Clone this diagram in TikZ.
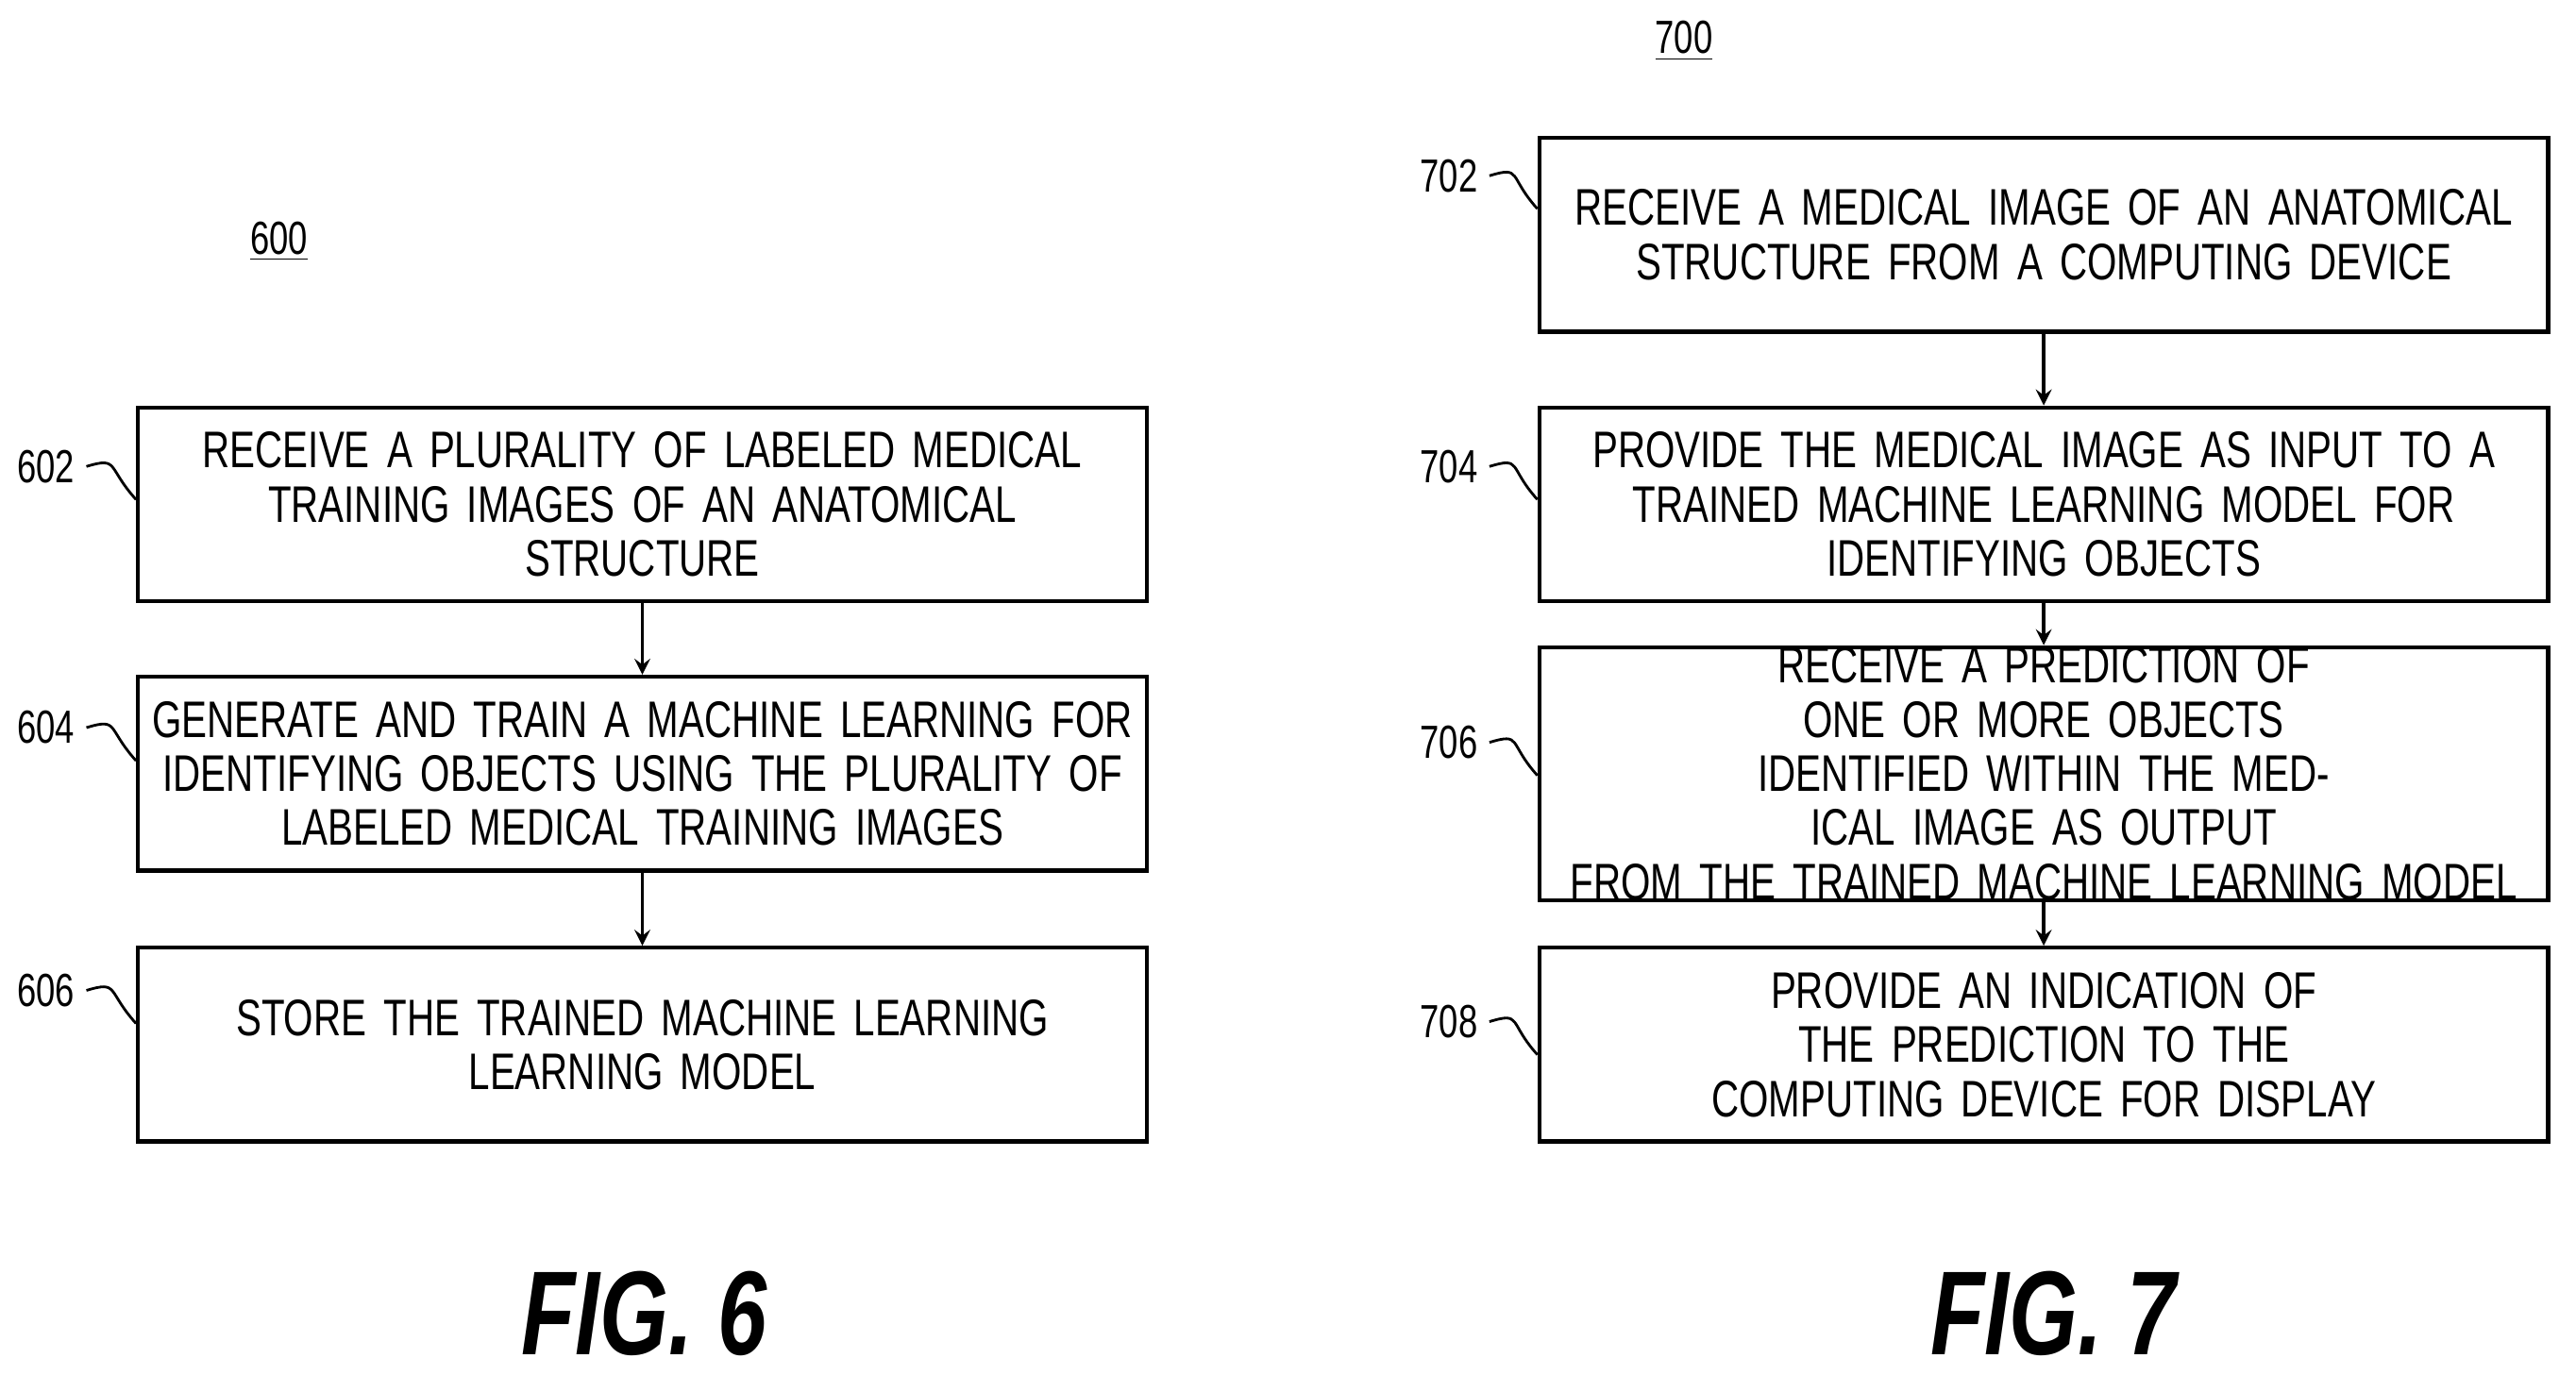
\documentclass[tikz,border=0pt]{standalone}
\usepackage{fontspec}
\setmainfont{Liberation Sans}[FakeStretch=0.74]
\begin{document}
\begin{tikzpicture}[x={0.0174cm},y={-0.0174cm},
  flowbox/.style={draw,line width=1.2pt,minimum width=614*0.0174cm,text width=600*0.0174cm,minimum height=118*0.0174cm,
    align=center,font=\fontsize{15.5}{16.3}\selectfont,inner sep=0pt},
  ref/.style={font=\fontsize{14}{14}\selectfont},
  arr/.style={->,line width=1.1pt,>=stealth},
  fig/.style={font=\fontsize{36}{36}\selectfont\bfseries\itshape}]
\useasboundingbox (0,0) rectangle (1568,837);
% left flow
\node[ref] (n600) at (170,147) {\underline{600}};
\node[flowbox] (b602) at (391,307) {RECEIVE A PLURALITY OF LABELED MEDICAL\\TRAINING IMAGES OF AN ANATOMICAL\\STRUCTURE};
\node[flowbox] (b604) at (391,471) {GENERATE AND TRAIN A MACHINE LEARNING FOR\\IDENTIFYING OBJECTS USING THE PLURALITY OF\\LABELED MEDICAL TRAINING IMAGES};
\node[flowbox] (b606) at (391,636) {STORE THE TRAINED MACHINE LEARNING\\LEARNING MODEL};
\draw[arr] (b602) -- (b604);
\draw[arr] (b604) -- (b606);
\node[ref] (l602) at (28,284) {602};
\node[ref] (l604) at (28,443) {604};
\node[ref] (l606) at (28,603) {606};
\foreach \n in {602,604,606}
  \draw[line width=0.8pt] (l\n.east) .. controls +(20,-6) and +(-18,-20) .. ([yshift=-0.35cm]b\n.west |- l\n.east);
% right flow
\node[ref] (n700) at (1025,25) {\underline{700}};
\node[flowbox] (b702) at (1244,143) {RECEIVE A MEDICAL IMAGE OF AN ANATOMICAL\\STRUCTURE FROM A COMPUTING DEVICE};
\node[flowbox] (b704) at (1244,307) {PROVIDE THE MEDICAL IMAGE AS INPUT TO A\\TRAINED MACHINE LEARNING MODEL FOR\\IDENTIFYING OBJECTS};
\node[flowbox] (b706) at (1244,471) {RECEIVE A PREDICTION OF ONE OR MORE OBJECTS\\IDENTIFIED WITHIN THE MEDICAL IMAGE AS OUTPUT\\FROM THE TRAINED MACHINE LEARNING MODEL};
\node[flowbox] (b708) at (1244,636) {PROVIDE AN INDICATION OF THE PREDICTION TO THE\\COMPUTING DEVICE FOR DISPLAY};
\draw[arr] (b702) -- (b704);
\draw[arr] (b704) -- (b706);
\draw[arr] (b706) -- (b708);
\node[ref] (l702) at (882,107) {702};
\node[ref] (l704) at (882,284) {704};
\node[ref] (l706) at (882,452) {706};
\node[ref] (l708) at (882,622) {708};
\foreach \n in {702,704,706,708}
  \draw[line width=0.8pt] (l\n.east) .. controls +(20,-6) and +(-18,-20) .. ([yshift=-0.35cm]b\n.west |- l\n.east);
% captions
\node[fig] (f6) at (392,800) {FIG. 6};
\node[fig] (f7) at (1250,800) {FIG. 7};
\end{tikzpicture}
\end{document}
